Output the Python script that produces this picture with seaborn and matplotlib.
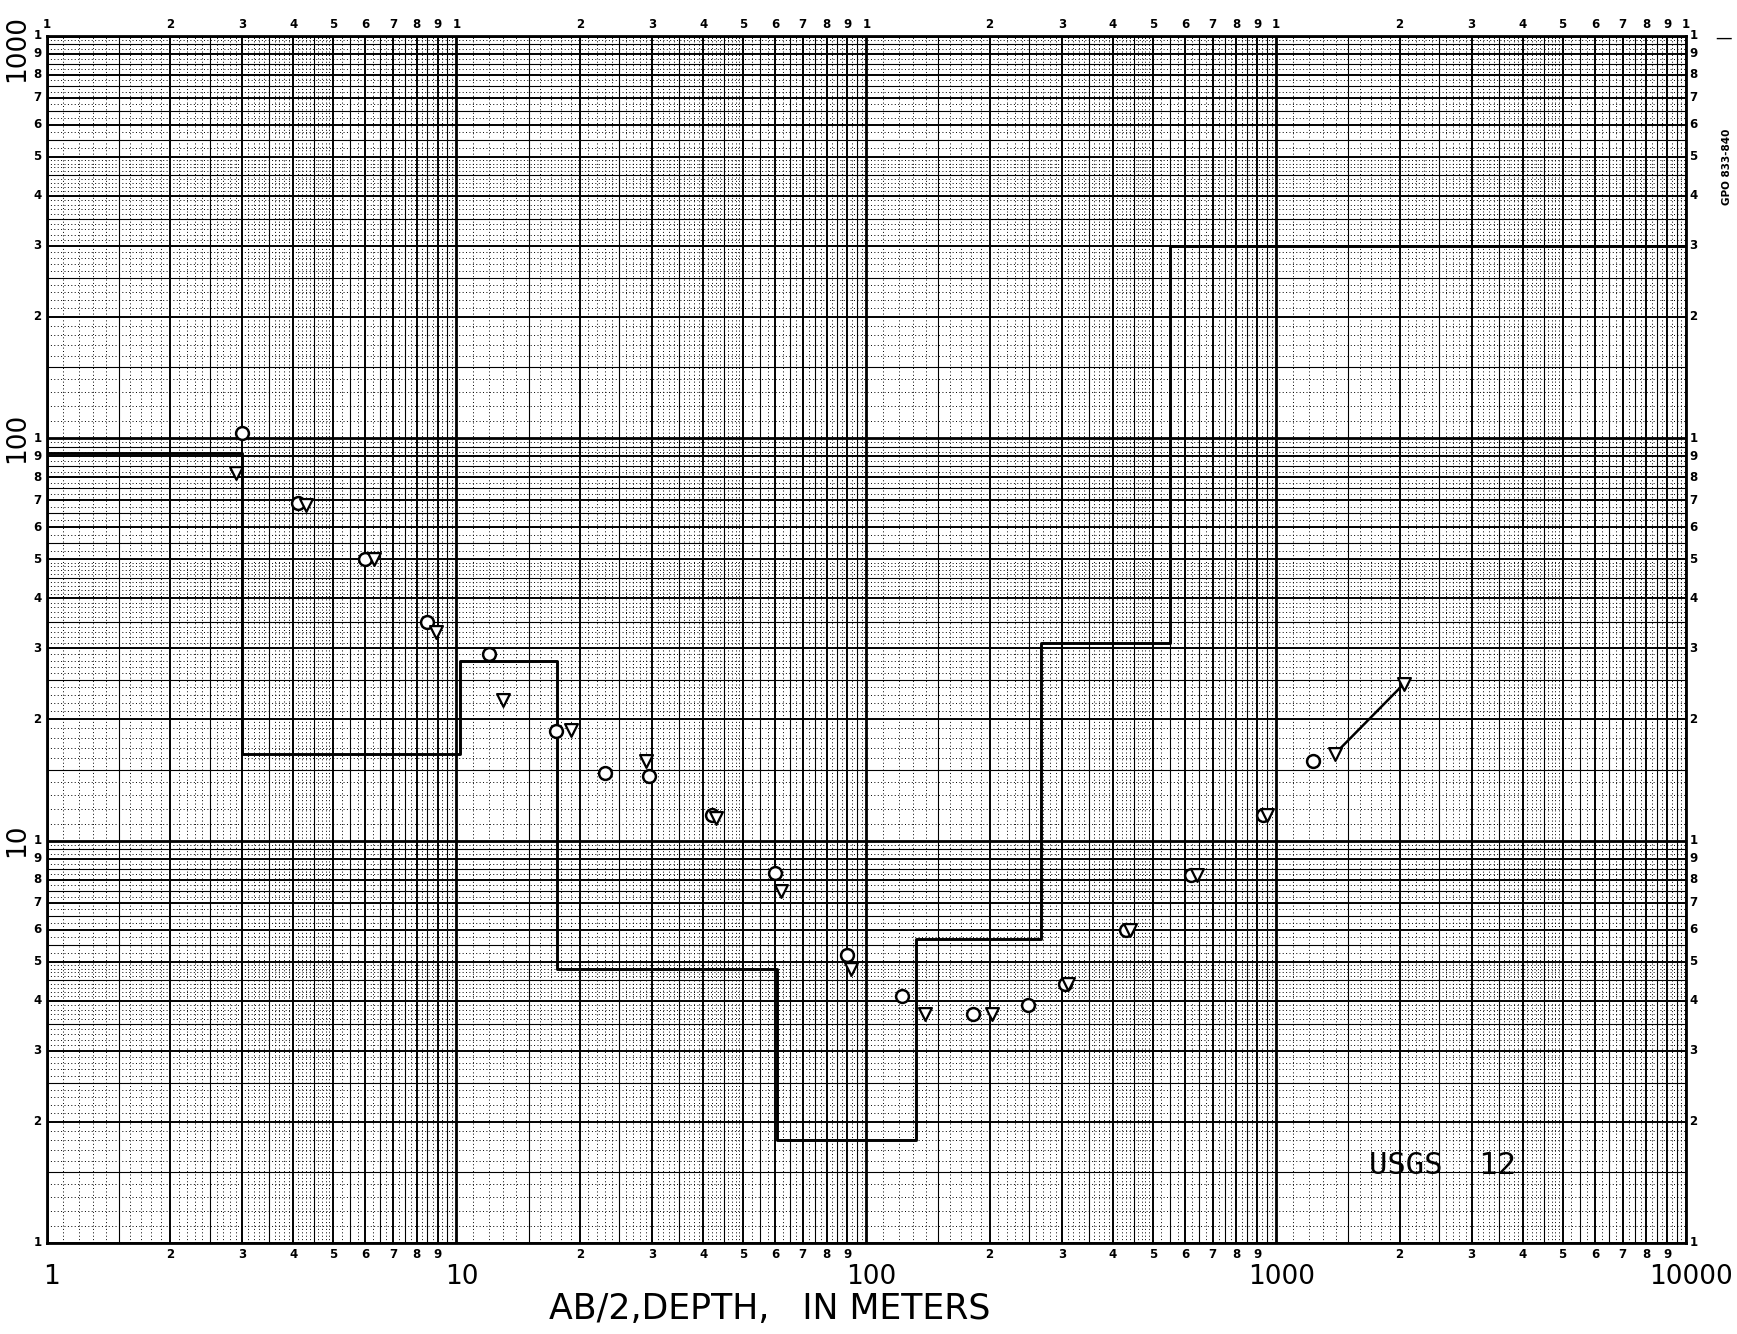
import numpy as np
import pandas as pd
import matplotlib
matplotlib.use("Agg")
import matplotlib.pyplot as plt
import matplotlib.transforms as mtransforms
import seaborn as sns

# ---------------- data ----------------
# observed apparent resistivity (circles)
obs_ab2 = [3, 4.1, 6, 8.5, 12, 17.5, 23, 29.5, 42, 60, 90, 122, 182, 248, 305, 430, 620, 930, 1230]
obs_rho = [103, 69, 50, 35, 29, 18.7, 14.7, 14.5, 11.6, 8.3, 5.2, 4.1, 3.7, 3.9, 4.4, 6.0, 8.2, 11.6, 15.8]
# computed curve values (triangles)
calc_ab2 = [2.9, 4.3, 6.3, 8.9, 13, 19, 29, 43, 62, 92, 139, 203, 310, 440, 640, 950, 1390, 2050]
calc_rho = [82, 68, 50, 33, 22.4, 18.8, 15.8, 11.4, 7.5, 4.8, 3.7, 3.7, 4.4, 6.0, 8.2, 11.6, 16.4, 24.5]
# hand-drawn extension segment
ext_ab2 = [1390, 2050]
ext_rho = [16.4, 24.5]
# layered model: depth boundaries and layer resistivities
layer_depths = [1, 3, 10.2, 17.6, 60.5, 132, 267, 550, 10000]
layer_rho = [92, 16.4, 28, 4.8, 1.8, 5.7, 31, 300]

x_decades = [1, 10, 100, 1000, 10000]
x_decade_labels = ["1", "10", "100", "1000", "10000"]
y_decades = [1, 10, 100, 1000]
y_decade_labels = ["1", "10", "100", "1000"]
xlabel_text = "AB/2,DEPTH,   IN METERS"
stamp_text = "USGS  12"
gpo_text = "GPO 833-840"

# ---------------- figure ----------------
sns.set_theme(style="white")
plt.rcParams["font.family"] = ["DejaVu Sans"]

W, H = 1737, 1334
fig = plt.figure(figsize=(W / 100, H / 100), dpi=100)
fig.patch.set_facecolor("white")
ax = fig.add_axes([46.5 / W, 1 - 1243 / H, (1686 - 46.5) / W, (1243 - 35.5) / H])
ax.set_xscale("log")
ax.set_yscale("log")
ax.set_xlim(1, 10000)
ax.set_ylim(1, 1000)
ax.set_facecolor("white")

# graph-paper grid
def grid_levels(decades_start, decades_end):
    major, half, fine = [], [], []
    d = decades_start
    while d < decades_end:
        for m in range(1, 10):
            major.append(m * d)
            half.append((m + 0.5) * d)
            if m < 5:
                fine.extend([(m + k / 10) * d for k in (1, 2, 3, 4, 6, 7, 8, 9)])
            else:
                fine.extend([(m + 0.25) * d, (m + 0.75) * d])
        d *= 10
    major.append(decades_end)
    return major, half, fine

xmaj, xhalf, xfine = grid_levels(1, 10000)
ymaj, yhalf, yfine = grid_levels(1, 1000)

def is_decade(v):
    r = np.log10(v) % 1
    return np.isclose(r, 0) or np.isclose(r, 1)

for v in xfine:
    ax.axvline(v, color="black", lw=0.7, ls=(0, (1, 2.5)), zorder=1)
for v in yfine:
    ax.axhline(v, color="black", lw=0.7, ls=(0, (1, 2.5)), zorder=1)
for v in xhalf:
    ax.axvline(v, color="black", lw=0.8, zorder=1.5)
for v in yhalf:
    ax.axhline(v, color="black", lw=0.8, zorder=1.5)
for v in xmaj:
    ax.axvline(v, color="black", lw=2.0 if is_decade(v) else 1.4, zorder=2)
for v in ymaj:
    ax.axhline(v, color="black", lw=2.0 if is_decade(v) else 1.4, zorder=2)

for s in ax.spines.values():
    s.set_color("black")
    s.set_linewidth(2.0)

# layered model as step line
step_x, step_y = [], []
for i, r in enumerate(layer_rho):
    step_x += [layer_depths[i], layer_depths[i + 1]]
    step_y += [r, r]
model_df = pd.DataFrame({"x": step_x, "y": step_y})
sns.lineplot(data=model_df, x="x", y="y", estimator=None, sort=False,
             color="black", lw=2.1, ax=ax, zorder=4)

# observations & computed points
obs_df = pd.DataFrame({"x": obs_ab2, "y": obs_rho})
calc_df = pd.DataFrame({"x": calc_ab2, "y": calc_rho})
sns.scatterplot(data=obs_df, x="x", y="y", marker="o", s=85, facecolor="white",
                edgecolor="black", linewidth=1.8, ax=ax, zorder=5)
sns.scatterplot(data=calc_df, x="x", y="y", marker="v", s=85, facecolor="white",
                edgecolor="black", linewidth=1.6, ax=ax, zorder=5)
ext_df = pd.DataFrame({"x": ext_ab2, "y": ext_rho})
sns.lineplot(data=ext_df, x="x", y="y", estimator=None, sort=False,
             color="black", lw=1.8, ax=ax, zorder=4)

ax.set_xticks([])
ax.set_yticks([])
ax.minorticks_off()
ax.tick_params(which="both", length=0)
ax.set_xlabel("")
ax.set_ylabel("")
ax.set_title("")

# ---------------- tick-like labels ----------------
bx = mtransforms.blended_transform_factory(ax.transData, ax.transAxes)
by = mtransforms.blended_transform_factory(ax.transAxes, ax.transData)
small = dict(fontsize=8.5, fontweight="bold", color="black")

for d in x_decades[:-1]:
    for m in range(1, 10):
        ax.text(m * d, 1.004, str(m), transform=bx, ha="center", va="bottom", **small)
        if m > 1:
            ax.text(m * d, -0.004, str(m), transform=bx, ha="center", va="top", **small)
ax.text(10000, 1.004, "1", transform=bx, ha="center", va="bottom", **small)

for v, lab in zip(x_decades, x_decade_labels):
    ax.text(v * 1.03, -0.0175, lab, transform=bx, ha="center", va="top", fontsize=19, color="black")

for d in y_decades[:-1]:
    for m in range(1, 10):
        ax.text(-0.003, m * d, str(m), transform=by, ha="right", va="center", **small)
        ax.text(1.002, m * d, str(m), transform=by, ha="left", va="center", **small)
ax.text(1.002, 1000, "1", transform=by, ha="left", va="center", **small)
ax.text(-0.003, 1000, "1", transform=by, ha="right", va="center", **small)

for v, lab in zip(y_decades[1:], y_decade_labels[1:]):
    yy = v * 0.93 if v == 1000 else v
    ax.text(-0.018, yy, lab, transform=by, ha="center", va="center",
            rotation=90, fontsize=19, color="black")

fig.text(0.443, 0.019, xlabel_text, ha="center", va="center", fontsize=25, color="black")
ax.text(2550, 1.56, stamp_text, ha="center", va="center", fontsize=22,
        family="DejaVu Sans Mono", color="black", zorder=6)
fig.text(0.994, 0.875, gpo_text, rotation=90, ha="center", va="center",
         fontsize=7.5, fontweight="bold", color="black")
fig.text(0.997, 0.972, "—", ha="right", va="center", fontsize=12, color="black")

fig.savefig("out.png", dpi=100, facecolor="white")
